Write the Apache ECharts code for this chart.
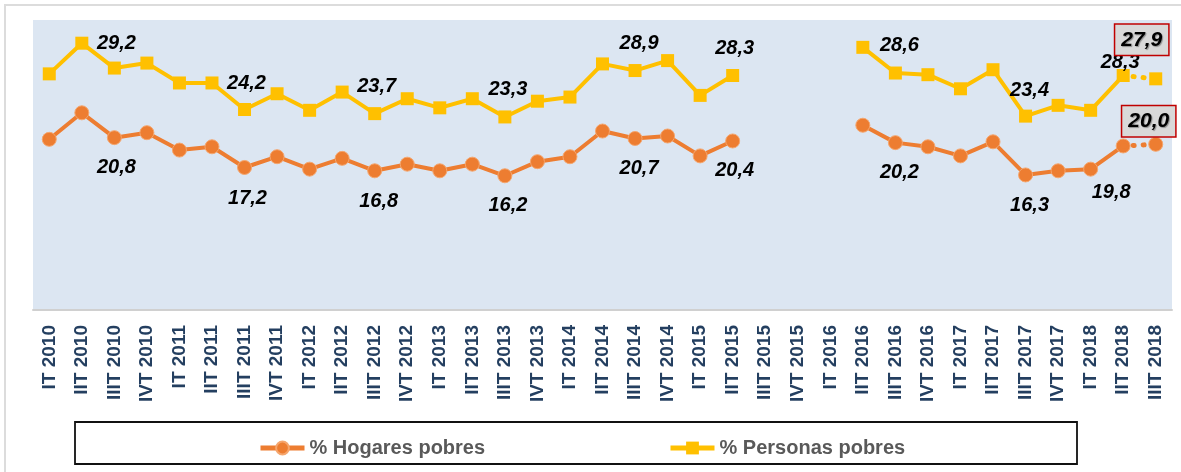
<!DOCTYPE html>
<html>
<head>
<meta charset="utf-8">
<script src="https://cdn.jsdelivr.net/npm/echarts@6/dist/echarts.min.js"></script>
<style>
  html, body { margin: 0; padding: 0; background: #ffffff; }
  #chart { width: 1181px; height: 472px; }
</style>
</head>
<body>
<div id="chart"></div>
<script>
// ---- data ----
const categories = [
  'IT 2010','IIT 2010','IIIT 2010','IVT 2010',
  'IT 2011','IIT 2011','IIIT 2011','IVT 2011',
  'IT 2012','IIT 2012','IIIT 2012','IVT 2012',
  'IT 2013','IIT 2013','IIIT 2013','IVT 2013',
  'IT 2014','IIT 2014','IIIT 2014','IVT 2014',
  'IT 2015','IIT 2015','IIIT 2015','IVT 2015',
  'IT 2016','IIT 2016','IIIT 2016','IVT 2016',
  'IT 2017','IIT 2017','IIIT 2017','IVT 2017',
  'IT 2018','IIT 2018','IIIT 2018'
];
const hogares = [
  20.6, 23.8, 20.8, 21.4,
  19.3, 19.7, 17.2, 18.5,
  17.0, 18.3, 16.8, 17.6,
  16.8, 17.6, 16.2, 17.9,
  18.5, 21.6, 20.7, 21.0,
  18.6, 20.4, null, null,
  null, 22.3, 20.2, 19.7,
  18.6, 20.3, 16.3, 16.8,
  17.0, 19.8, 20.0
];
const personas = [
  28.5, 32.2, 29.2, 29.8,
  27.4, 27.4, 24.2, 26.1,
  24.1, 26.3, 23.7, 25.5,
  24.4, 25.5, 23.3, 25.2,
  25.7, 29.7, 28.9, 30.1,
  25.9, 28.3, null, null,
  null, 31.7, 28.6, 28.4,
  26.7, 29.0, 23.4, 24.7,
  24.1, 28.3, 27.9
];
const seriesNames = ['% Hogares pobres', '% Personas pobres'];
const lastSolidIndex = 33;   // dotted projection after this point

// ---- label placement (styling, offsets from the marker centre) ----
const hogaresLabelOffset = {2:[2,30],6:[3,31],10:[4,31],14:[3,30],18:[4,30],21:[2,30],26:[4,30],30:[4,31],33:[-12,47],34:[-7,-23]};
const personasLabelOffset = {2:[2,-25],6:[2,-26],10:[2,-27],14:[3,-27],18:[4,-27],21:[2,-27],26:[4,-28],30:[4,-26],33:[-3,-13],34:[-14,-39]};

const fmt = v => v.toFixed(1).replace('.', ',');
const FONT = "'Liberation Sans', Arial, Helvetica, sans-serif";

const plainLabel = {
  show: true, position: 'inside', color: '#000', fontFamily: FONT,
  fontSize: 20, fontWeight: 'bold', fontStyle: 'italic'
};
const boxLabel = {
  show: true, position: 'inside', color: '#000', fontFamily: FONT,
  fontSize: 21, fontWeight: 900, fontStyle: 'italic',
  backgroundColor: '#d9d9d9', borderColor: '#c00000', borderWidth: 1.5,
  padding: [5, 6, 4, 6],
  textShadowColor: 'rgba(0,0,0,0.35)', textShadowOffsetX: 1, textShadowOffsetY: 1, textShadowBlur: 1
};

function solidData(arr, offsets) {
  return arr.map((v, i) => {
    if (i > lastSolidIndex || v == null) return null;
    if (offsets[i]) {
      return { value: v, label: Object.assign({}, plainLabel, { offset: offsets[i], formatter: fmt(v) }) };
    }
    return v;
  });
}
function dottedData(arr, offsets) {
  return arr.map((v, i) => {
    if (i < lastSolidIndex || v == null) return null;
    if (i === lastSolidIndex) return { value: v, symbol: 'none' };
    return { value: v, label: Object.assign({}, boxLabel, { offset: offsets[i], formatter: fmt(v) }) };
  });
}

const ORANGE = '#ed7d31';
const YELLOW = '#ffc000';

const legendBase = {
  itemWidth: 44, itemHeight: 16, selectedMode: false, top: 433,
  lineStyle: { width: 5 },
  textStyle: { color: '#595959', fontFamily: FONT, fontSize: 20, fontWeight: 'bold' }
};

const chart = echarts.init(document.getElementById('chart'), null, { renderer: 'canvas' });
chart.setOption({
  backgroundColor: '#ffffff',
  animation: false,
  grid: {
    left: 33, right: 9, top: 20, bottom: 162,
    show: true, backgroundColor: '#dce6f2', borderWidth: 0
  },
  xAxis: {
    type: 'category',
    data: categories,
    boundaryGap: true,
    axisLine: { show: true, lineStyle: { color: '#d0d0d0', width: 2 } },
    axisTick: { show: false },
    axisLabel: {
      interval: 0, rotate: 90, margin: 15,
      color: '#243f60', fontFamily: FONT, fontSize: 19, fontWeight: 'bold'
    },
    splitLine: { show: false }
  },
  yAxis: {
    type: 'value', min: 0, max: 35,
    show: false,
    splitLine: { show: false }
  },
  legend: [
    Object.assign({}, legendBase, { data: [seriesNames[0]], left: 253 }),
    Object.assign({}, legendBase, { data: [seriesNames[1]], left: 663 })
  ],
  graphic: [
    {
      type: 'rect', silent: true, z: -1,
      shape: { x: 5, y: 5, width: 1300, height: 600 },
      style: { fill: 'none', stroke: '#dcdcdc', lineWidth: 2 }
    },
    {
      type: 'rect', silent: true,
      shape: { x: 75, y: 422, width: 1002, height: 42 },
      style: { fill: 'none', stroke: '#111111', lineWidth: 1.8 }
    }
  ],
  series: [
    {
      name: seriesNames[0], type: 'line',
      data: solidData(hogares, hogaresLabelOffset),
      connectNulls: false,
      symbol: 'circle', symbolSize: 14, showAllSymbol: true,
      lineStyle: { color: ORANGE, width: 4 },
      itemStyle: { color: ORANGE, borderColor: '#f5a66e', borderWidth: 1 },
      label: { show: false },
      z: 3
    },
    {
      name: seriesNames[1], type: 'line',
      data: solidData(personas, personasLabelOffset),
      connectNulls: false,
      symbol: 'rect', symbolSize: 13, showAllSymbol: true,
      lineStyle: { color: YELLOW, width: 4 },
      itemStyle: { color: YELLOW },
      label: { show: false },
      z: 3
    },
    {
      name: seriesNames[0] + ' proyección', type: 'line',
      data: dottedData(hogares, hogaresLabelOffset),
      symbol: 'circle', symbolSize: 14, showAllSymbol: true,
      lineStyle: { color: ORANGE, width: 5, type: [1, 9], cap: 'round' },
      itemStyle: { color: ORANGE, borderColor: '#f5a66e', borderWidth: 1 },
      label: { show: false },
      z: 4
    },
    {
      name: seriesNames[1] + ' proyección', type: 'line',
      data: dottedData(personas, personasLabelOffset),
      symbol: 'rect', symbolSize: 13, showAllSymbol: true,
      lineStyle: { color: YELLOW, width: 5, type: [1, 9], cap: 'round' },
      itemStyle: { color: YELLOW },
      label: { show: false },
      z: 4
    }
  ]
});
</script>
</body>
</html>
